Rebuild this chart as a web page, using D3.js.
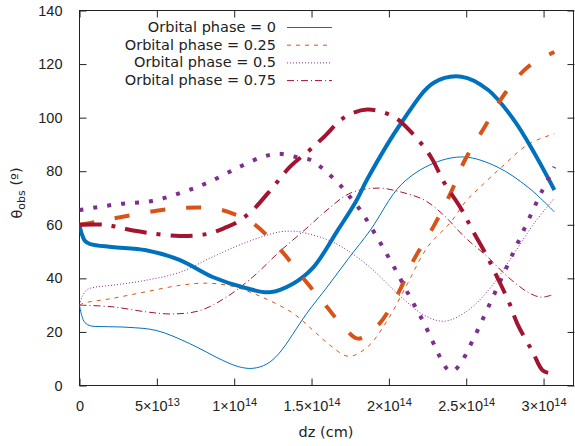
<!DOCTYPE html>
<html>
<head>
<meta charset="utf-8">
<script src="https://cdn.jsdelivr.net/npm/d3@7"></script>
<style>
  body { margin: 0; background: #fff; }
  svg { font-family: "DejaVu Sans", sans-serif; }
  .axis path { display: none; }
  .axis line { stroke: #222; }
  .axis text { fill: #222; font-size: 14.5px; }
</style>
</head>
<body>
<div id="chart"></div>
<script>
// dz in units of 1e13 cm, theta_obs in degrees
var phases = ['Orbital phase = 0', 'Orbital phase = 0.25', 'Orbital phase = 0.5', 'Orbital phase = 0.75'];

var thin0 = [[0,30],[0.15,26],[0.35,23.5],[0.7,22.3],[1.5,22],[3.2,21.7],[5,20.5],[7.1,15.7],[9.25,9.4],[10.3,7],[11.2,6.4],[12.1,8],[12.9,12],[14.7,27],[16,36.7],[17.4,47.5],[18.8,58],[20.8,75],[22.9,83],[24.9,85.3],[27,81.6],[29,74],[30.7,64.8]];
var thick0 = [[0,60],[0.15,56.5],[0.35,54],[0.7,52.8],[2.1,51.7],[4.3,50.5],[6.5,46.8],[8.6,40.5],[10.8,36.3],[12.3,34.8],[13.8,38],[15.1,44],[16.7,58],[17.9,69],[18.6,77],[20.8,98],[22.9,113],[24.7,115.3],[26.4,110.4],[28.1,99],[29.4,86.8],[30.7,73]];

var thin25 = [[0,30],[0.3,30.8],[2.1,32.5],[4.3,35],[6.5,37.4],[8.2,38.2],[9.9,37],[11.8,33],[13.8,27],[15.1,20.6],[16.2,15],[17.4,10.9],[18.6,14.3],[19.9,24.3],[21.2,38],[22.5,51.7],[24,61],[25,69],[25.8,73.5],[27.3,81.6],[29,90],[30.7,94]];
var thick25 = [[0,60],[1,61],[2.8,63],[6,66],[8.6,66.2],[10,64],[11.2,60.6],[12.9,51.3],[14.4,40.5],[15.9,30],[17.2,21],[18,17.5],[19.3,22.5],[20.6,34.4],[21.6,46.8],[22.9,59.5],[24,71.9],[24.9,84],[26.2,96.6],[27.5,109],[29,119],[30.7,124.5]];

var thin50 = [[0,30],[0.2,33.5],[0.5,35.8],[1,36.7],[2.1,37.4],[4.3,39.3],[6.5,42.3],[8.6,48],[10.8,53.5],[12.9,57.3],[13.8,57.6],[14.3,57.3],[16.4,53.5],[18.6,45],[20.8,33],[22.3,26.2],[23.6,24],[25.1,28],[26.6,36.7],[28.1,49.4],[29.4,60.6],[30.7,70]];
var thick50 = [[0,65.5],[2.5,67.7],[4.7,68.9],[6.7,72.2],[8.4,76],[10.2,81.2],[11.8,85.3],[12.9,86.5],[14,85.3],[14.95,84.2],[15.7,81.1],[16.35,77.7],[17,73.9],[17.5,70.3],[18.1,65.9],[18.6,61.5],[19.5,52.7],[20.45,43],[21.3,33.7],[22.2,24.1],[23,14.3],[23.4,9.6],[23.9,5.4],[24.2,5.6],[24.6,7.9],[25.5,17.8],[26.7,32.7],[27.9,47.8],[29.1,62.8],[29.9,72.6],[30.7,81.6]];

var thin75 = [[0,30],[2.1,29.4],[4.3,27.5],[6,26.7],[7.8,28],[9.5,33],[11.2,40.5],[12.9,49.8],[14.7,58.8],[16,65.5],[17.5,71.8],[19.3,73.7],[20.8,72.2],[22.3,69.2],[23.6,63.3],[24.9,55.4],[26.4,47.9],[27.7,40.5],[29,34.8],[29.8,33],[30.5,33.7]];
var thick75 = [[0,60],[1.7,60],[3,58.4],[4.5,56.9],[6.5,55.8],[8.2,56.5],[9.5,59.1],[10.2,61],[11.2,65.5],[12.5,74],[13.6,81.6],[14.9,88],[15.8,92.8],[17.1,100],[18.6,103],[20.3,100.4],[21.6,93.6],[22.7,85.5],[23.6,75.5],[24.66,66.1],[25.4,58],[26.3,48.7],[27,40.5],[27.8,30.6],[28.3,23.1],[29.3,12.5],[29.95,5.6],[30.5,4.5]];

var xTicks = [0, 5e13, 1e14, 1.5e14, 2e14, 2.5e14, 3e14];
var yTicks = [0, 20, 40, 60, 80, 100, 120, 140];

var colors = ['#0072bd', '#d95319', '#7e2f8e', '#a2142f'];
var thickDash = [null, '15,21', '4,10', '22,10,4,10'];
var thinDash = [null, '4,5', '1,2', '7,3,1,3'];

var W = 575, H = 446;
var x = d3.scaleLinear().domain([0, 3.2e14]).range([79.5, 574.5]);
var y = d3.scaleLinear().domain([0, 140]).range([385.5, 10.5]);

var svg = d3.select('#chart').append('svg').attr('width', W).attr('height', H);

svg.append('clipPath').attr('id', 'plotclip').append('rect')
    .attr('x', x(0)).attr('y', y(140)).attr('width', x(3.2e14) - x(0)).attr('height', y(0) - y(140));

function supLabel(d) {
    if (d === 0) return ['0', null];
    var e = Math.floor(Math.log10(d) + 1e-9);
    var m = +(d / Math.pow(10, e)).toFixed(2);
    return [m + '\u00d710', String(e)];
}

var gx = svg.append('g').attr('class', 'axis')
    .attr('transform', 'translate(0,' + y(0) + ')')
    .call(d3.axisBottom(x).tickValues(xTicks).tickSizeInner(-7).tickSizeOuter(0).tickPadding(15));
gx.selectAll('text').each(function(d) {
    var t = d3.select(this).text(''), p = supLabel(d);
    t.append('tspan').text(p[0]);
    if (p[1]) t.append('tspan').attr('dy', '-0.45em').style('font-size', '11px').text(p[1]);
});

svg.append('g').attr('class', 'axis')
    .attr('transform', 'translate(0,' + y(140) + ')')
    .call(d3.axisTop(x).tickValues(xTicks).tickSizeInner(-7).tickSizeOuter(0).tickFormat(''));

svg.append('g').attr('class', 'axis')
    .attr('transform', 'translate(' + x(0) + ',0)')
    .call(d3.axisLeft(y).tickValues(yTicks).tickSizeInner(-7).tickSizeOuter(0).tickPadding(17));

svg.append('g').attr('class', 'axis')
    .attr('transform', 'translate(' + x(3.2e14) + ',0)')
    .call(d3.axisRight(y).tickValues(yTicks).tickSizeInner(-7).tickSizeOuter(0).tickFormat(''));

svg.append('rect')
    .attr('x', x(0)).attr('y', y(140))
    .attr('width', x(3.2e14) - x(0) - 1).attr('height', y(0) - y(140))
    .attr('fill', 'none').attr('stroke', '#222').attr('stroke-width', 1);

var line = d3.line()
    .x(function(d) { return x(d[0] * 1e13); })
    .y(function(d) { return y(d[1]); })
    .curve(d3.curveCatmullRom.alpha(0.5));

var plot = svg.append('g').attr('clip-path', 'url(#plotclip)');

var thins = [thin0, thin25, thin50, thin75];
var thicks = [thick0, thick25, thick50, thick75];

thins.forEach(function(s, i) {
    plot.append('path')
        .attr('d', line(s))
        .attr('fill', 'none')
        .attr('stroke', colors[i])
        .attr('stroke-width', 1)
        .attr('stroke-dasharray', thinDash[i]);
});

thicks.forEach(function(s, i) {
    plot.append('path')
        .attr('d', line(s))
        .attr('fill', 'none')
        .attr('stroke', colors[i])
        .attr('stroke-width', 4)
        .attr('stroke-dasharray', thickDash[i]);
});

// legend
var leg = svg.append('g').selectAll('g')
    .data(phases)
    .enter().append('g')
    .attr('transform', function(d, i) { return 'translate(0,' + (27 + 17.7 * i) + ')'; });

leg.append('text')
    .attr('x', 276).attr('dy', '0.35em')
    .attr('text-anchor', 'end')
    .style('font-size', '14.5px').style('fill', '#222')
    .text(function(d) { return d; });

leg.append('line')
    .attr('x1', 287).attr('x2', 332).attr('y1', 0.5).attr('y2', 0.5)
    .attr('stroke', function(d, i) { return colors[i]; })
    .attr('stroke-width', 1)
    .attr('stroke-dasharray', function(d, i) { return thinDash[i]; });

// axis titles
svg.append('text')
    .attr('x', 326).attr('y', 437)
    .attr('text-anchor', 'middle')
    .style('font-size', '14.5px').style('fill', '#222')
    .text('dz (cm)');

var yt = svg.append('text')
    .attr('transform', 'translate(22,193) rotate(-90)')
    .attr('text-anchor', 'middle')
    .style('font-size', '14.5px').style('fill', '#222');
yt.append('tspan').text('\u03b8');
yt.append('tspan').attr('dy', '0.3em').style('font-size', '11px').text('obs');
yt.append('tspan').attr('dy', '-0.3em').text(' (\u00ba)');
</script>
</body>
</html>
